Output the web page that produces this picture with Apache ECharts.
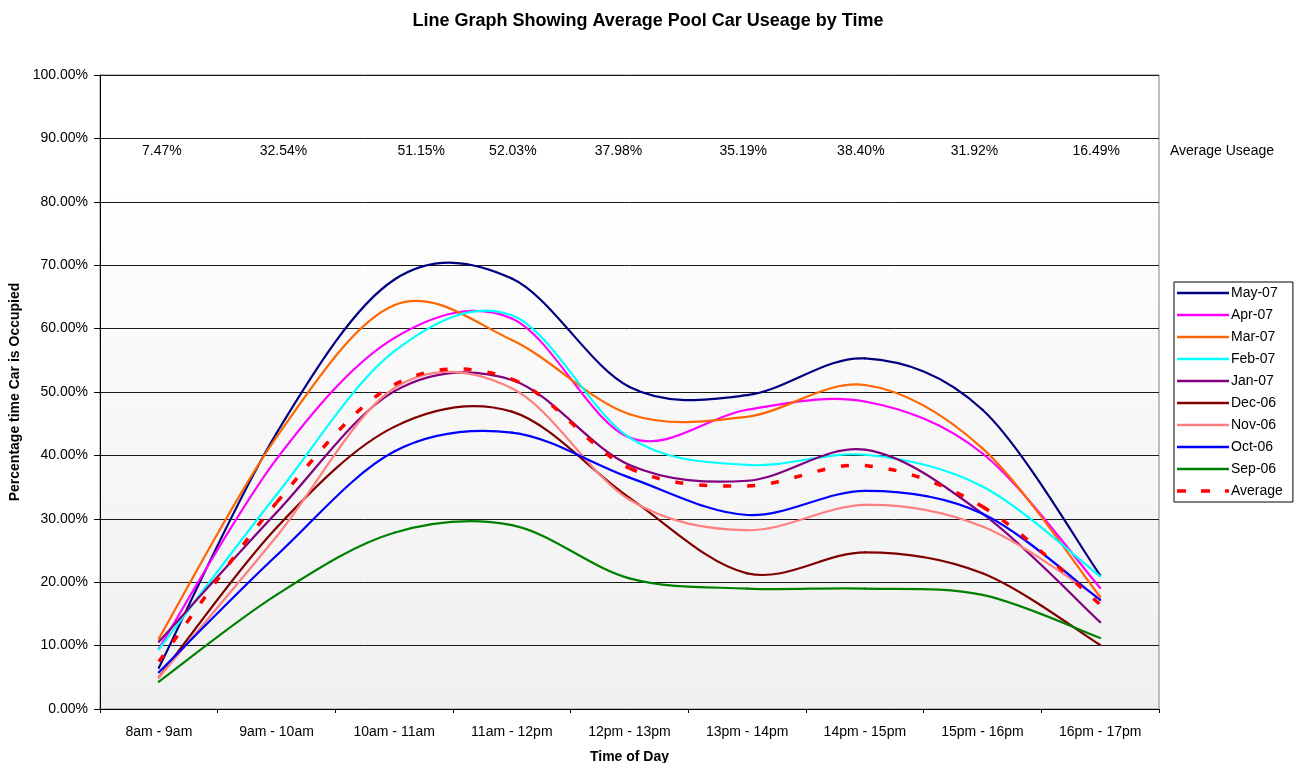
<!DOCTYPE html>
<html>
<head>
<meta charset="utf-8">
<script src="https://cdn.jsdelivr.net/npm/echarts@6/dist/echarts.min.js"></script>
<style>
html,body{margin:0;padding:0;background:#fff;}
#c{width:1299px;height:763px;}
</style>
</head>
<body>
<div id="c"></div>
<script>
const categories = ['8am - 9am','9am - 10am','10am - 11am','11am - 12pm','12pm - 13pm','13pm - 14pm','14pm - 15pm','15pm - 16pm','16pm - 17pm'];
const may07 = [6.5, 43.5, 67.7, 67.9, 50.8, 49.5, 55.3, 47.2, 21.1];
const apr07 = [9.5, 39.4, 58.5, 61.6, 42.8, 47.2, 48.5, 40.3, 19.1];
const mar07 = [11.1, 42.9, 63.7, 58.2, 46.5, 46.1, 51.1, 41.1, 17.7];
const feb07 = [9.4, 33.8, 56.4, 62.1, 42.8, 38.5, 40.1, 35.1, 20.9];
const jan07 = [10.6, 31.0, 50.1, 51.9, 38.5, 36.0, 40.9, 30.8, 13.7];
const dec06 = [5.0, 28.6, 44.5, 46.9, 33.3, 21.4, 24.7, 21.4, 10.1];
const nov06 = [5.0, 27.2, 50.6, 50.6, 33.0, 28.2, 32.2, 28.8, 17.4];
const oct06 = [5.8, 24.2, 40.6, 43.6, 36.5, 30.6, 34.4, 30.8, 17.2];
const sep06 = [4.3, 18.0, 27.8, 29.0, 20.6, 19.0, 19.0, 18.0, 11.2];
const average = [7.47, 32.54, 51.15, 52.03, 37.98, 35.19, 38.40, 31.92, 16.49];

const seriesDefs = [
  {name:'May-07', data:may07, color:'#000080'},
  {name:'Apr-07', data:apr07, color:'#FF00FF'},
  {name:'Mar-07', data:mar07, color:'#FF6600'},
  {name:'Feb-07', data:feb07, color:'#00FFFF'},
  {name:'Jan-07', data:jan07, color:'#800080'},
  {name:'Dec-06', data:dec06, color:'#800000'},
  {name:'Nov-06', data:nov06, color:'#FF8080'},
  {name:'Oct-06', data:oct06, color:'#0000FF'},
  {name:'Sep-06', data:sep06, color:'#008000'}
];
const labelShiftX = [3, 7, 27, 1, -11, -4, -4, -8, -4];

const FONT = '"Liberation Sans", Arial, sans-serif';
const chart = echarts.init(document.getElementById('c'), null, {renderer:'canvas'});

// Smooth (Catmull-Rom style) curve drawn segment by segment through the axis scales
function makeRenderItem(color, width, dash) {
  return function (params, api) {
    const i = params.dataIndex;
    const n = params.dataInsideLength !== undefined ? params.dataInsideLength : categories.length;
    if (i >= n - 1) return null;
    const P = j => {
      const k = Math.max(0, Math.min(n - 1, j));
      return api.coord([api.value(0, k), api.value(1, k)]);
    };
    const p0 = P(i - 1), p1 = P(i), p2 = P(i + 1), p3 = P(i + 2);
    const t = 1 / 6;
    return {
      type: 'bezierCurve',
      shape: {
        x1: p1[0], y1: p1[1], x2: p2[0], y2: p2[1],
        cpx1: p1[0] + (p2[0] - p0[0]) * t, cpy1: p1[1] + (p2[1] - p0[1]) * t,
        cpx2: p2[0] - (p3[0] - p1[0]) * t, cpy2: p2[1] - (p3[1] - p1[1]) * t
      },
      style: { stroke: color, lineWidth: width, fill: null, lineDash: dash || null, lineCap: dash ? 'butt' : 'round' }
    };
  };
}

const series = seriesDefs.map(s => ({
  name: s.name, type: 'custom', coordinateSystem: 'cartesian2d',
  data: s.data.map((v, i) => [i, v]),
  encode: { x: 0, y: 1 },
  itemStyle: { color: s.color },
  renderItem: makeRenderItem(s.color, 2.2, null),
  animation: false, z: 2
}));
series.push({
  name: 'Average', type: 'custom', coordinateSystem: 'cartesian2d',
  data: average.map((v, i) => [i, v]),
  encode: { x: 0, y: 1 },
  itemStyle: { color: '#FF0000' },
  renderItem: makeRenderItem('#FF0000', 3.5, [8, 16]),
  animation: false, z: 3
});

const solidIcon = 'path://M0,0 L52,0 L52,2.4 L0,2.4 Z';
const dashIcon = 'path://M0,0 L9,0 L9,3.6 L0,3.6 Z M24,0 L33,0 L33,3.6 L24,3.6 Z M48,0 L52,0 L52,3.6 L48,3.6 Z';

chart.setOption({
  animation: false,
  backgroundColor: '#ffffff',
  title: {
    text: 'Line Graph Showing Average Pool Car Useage by Time',
    left: 643, top: 7, textAlign: 'center',
    textStyle: { fontFamily: FONT, fontSize: 18, fontWeight: 'bold', color: '#000' }
  },
  grid: {
    left: 100, right: 140, top: 75, bottom: 54, containLabel: false,
    outerBoundsMode: 'none',
    show: true, borderColor: '#808080', borderWidth: 1,
    backgroundColor: { type: 'linear', x: 0, y: 0, x2: 0, y2: 1, colorStops: [
      { offset: 0, color: '#ffffff' },
      { offset: 0.18, color: '#ffffff' },
      { offset: 0.45, color: '#f9f9f9' },
      { offset: 1, color: '#f0f0f0' }
    ] }
  },
  legend: {
    orient: 'vertical', left: 1174, top: 282,
    data: seriesDefs.map(s => ({ name: s.name, icon: solidIcon }))
      .concat([{ name: 'Average', icon: dashIcon }]),
    symbolKeepAspect: true,
    itemWidth: 52, itemHeight: 14, itemGap: 8,
    borderColor: '#000', borderWidth: 1, padding: [4, 10, 4, 3],
    backgroundColor: '#fff',
    textStyle: { fontFamily: FONT, fontSize: 14, color: '#000', padding: [0, 0, 0, -3] }
  },
  xAxis: {
    type: 'category', data: categories, boundaryGap: true,
    name: 'Time of Day', nameLocation: 'middle', nameGap: 41,
    nameTextStyle: { fontFamily: FONT, fontSize: 14, fontWeight: 'bold', color: '#000' },
    axisLine: { lineStyle: { color: '#000', width: 1 } },
    axisTick: { show: true, length: 4, lineStyle: { color: '#000' } },
    axisLabel: { fontFamily: FONT, fontSize: 14, color: '#000', margin: 16 },
    splitLine: { show: false }
  },
  yAxis: {
    type: 'value', min: 0, max: 100, interval: 10,
    name: 'Percentage time Car is Occupied', nameLocation: 'middle', nameGap: 72,
    nameTextStyle: { fontFamily: FONT, fontSize: 14, fontWeight: 'bold', color: '#000' },
    axisLine: { show: true, lineStyle: { color: '#000', width: 1 } },
    axisTick: { show: true, length: 6, lineStyle: { color: '#000' } },
    axisLabel: { fontFamily: FONT, fontSize: 14, color: '#000', margin: 12,
      formatter: v => v.toFixed(2) + '%' },
    splitLine: { show: true, lineStyle: { color: '#1a1a1a', width: 1 } }
  },
  series: series
});

const texts = average.map((v, i) => {
  const p = chart.convertToPixel({ xAxisIndex: 0, yAxisIndex: 0 }, [i, 88]);
  return {
    type: 'text', x: p[0] + labelShiftX[i], y: p[1], silent: true,
    style: { text: v.toFixed(2) + '%', fill: '#000', font: '14px ' + FONT, textAlign: 'center', textVerticalAlign: 'middle' }
  };
});
const pEnd = chart.convertToPixel({ xAxisIndex: 0, yAxisIndex: 0 }, [8, 88]);
texts.push({
  type: 'text', x: 1222, y: pEnd[1], silent: true,
  style: { text: 'Average Useage', fill: '#000', font: '14px ' + FONT, textAlign: 'center', textVerticalAlign: 'middle' }
});
chart.setOption({ graphic: texts });
</script>
</body>
</html>
